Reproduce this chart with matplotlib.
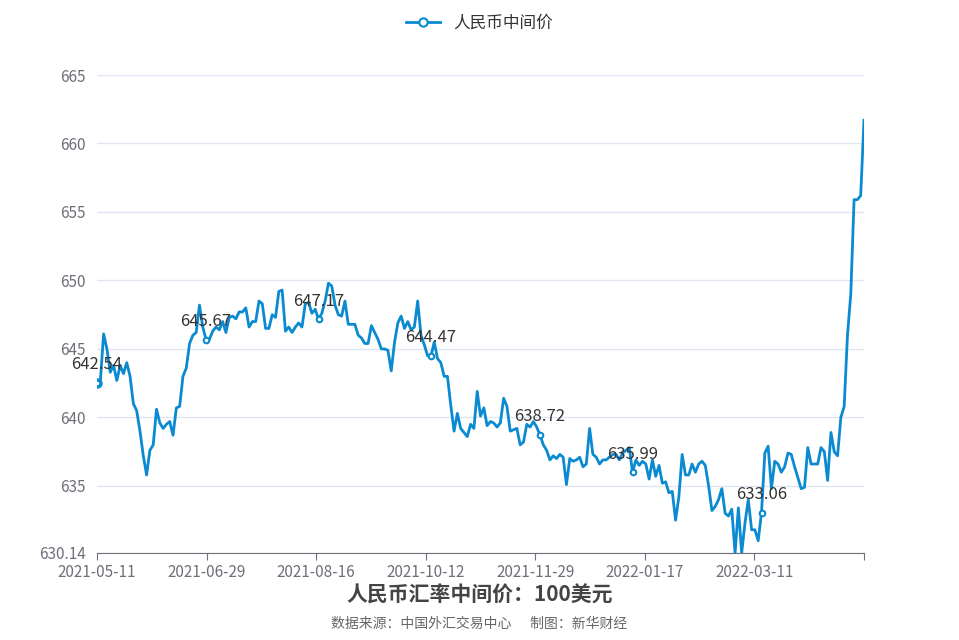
import numpy as np
import matplotlib
matplotlib.use("Agg")
import matplotlib.pyplot as plt

plt.rcParams["font.family"] = ["Noto Sans CJK SC", "DejaVu Sans"]

# daily CNY central parity (per 100 USD)
values = [
    642.54, 642.6, 646.1, 645.0, 643.3, 643.8, 642.7, 643.8, 643.2, 644.0, 643.0, 641.0,
    640.5, 639.0, 637.2, 635.8, 637.6, 638.0, 640.6, 639.6, 639.2, 639.5, 639.7, 638.7,
    640.7, 640.8, 643.0, 643.6, 645.4, 646.0, 646.2, 648.2, 646.6, 645.67,
    645.7, 646.3, 646.6, 646.4, 647.0, 646.2, 647.3, 647.4, 647.2, 647.7, 647.7, 648.0,
    646.6, 647.0, 647.0, 648.5, 648.3, 646.5, 646.5, 647.5, 647.3, 649.2, 649.3, 646.3,
    646.6, 646.2, 646.6, 646.9, 646.6, 648.3, 648.4, 647.6, 647.9, 647.17, 647.6,
    648.5, 649.8, 649.6, 648.2, 647.5, 647.4, 648.5, 646.8, 646.8, 646.8, 646.0, 645.8,
    645.4, 645.4, 646.7, 646.2, 645.7, 645.0, 645.0, 644.9, 643.4, 645.5, 646.9, 647.4,
    646.5, 647.0, 646.4, 646.6, 648.5, 646.0, 645.3, 644.5, 644.47, 645.5, 644.3,
    644.0, 643.0, 643.0, 640.9, 639.0, 640.3, 639.2, 638.9, 638.6, 639.5, 639.2, 641.9,
    640.1, 640.7, 639.4, 639.7, 639.6, 639.3, 639.6, 641.4, 640.8, 639.0, 639.1, 639.2,
    638.0, 638.2, 639.5, 639.3, 639.7, 639.3, 638.72, 638.0,
    637.6, 636.9, 637.2, 637.0, 637.3, 637.1, 635.1, 637.0, 636.8, 636.9, 637.1, 636.4,
    636.6, 639.2, 637.3, 637.1, 636.6, 636.9, 636.9, 637.1, 637.3, 637.3, 636.9, 637.4,
    637.6, 637.8, 635.99, 636.9, 636.5, 636.8, 636.6, 635.5, 636.9, 635.7,
    636.5, 635.2, 635.3, 634.5, 634.6, 632.5, 634.2, 637.3, 635.8, 635.8, 636.6, 636.0,
    636.6, 636.8, 636.5, 635.0, 633.2, 633.5, 634.0, 634.8, 633.0, 632.8, 633.3,
    630.1, 633.4, 630.1, 632.3, 634.0, 631.8, 631.8, 631.0, 633.06, 637.4,
    637.9, 634.8, 636.8, 636.6, 636.0, 636.4, 637.4, 637.3, 636.4, 635.6, 634.8, 634.9,
    637.8, 636.6, 636.6, 636.6, 637.8, 637.5, 635.4, 638.9, 637.5, 637.2, 640.0, 640.8,
    646.0, 649.0, 655.9, 655.9, 656.2, 661.7,
]
tick_labels = ["2021-05-11", "2021-06-29", "2021-08-16", "2021-10-12",
               "2021-11-29", "2022-01-17", "2022-03-11"]
marked = [642.54, 645.67, 647.17, 644.47, 638.72, 635.99, 633.06]

BLUE = "#0a8ad1"
n = len(values)
x = np.arange(n)

fig = plt.figure(figsize=(9.59, 6.4), dpi=100)
ax = fig.add_axes([97 / 959, (640 - 552.5) / 640, 767 / 959, (552.5 - 75) / 640])

ax.plot(x, values, color=BLUE, lw=2, label="人民币中间价", zorder=3,
        marker="o", markevery=[0], mfc="white", mec=BLUE, ms=6, mew=1.5)
for v in marked:
    i = values.index(v)
    ax.plot(i, v, "o", ms=4, mfc="white", mec=BLUE, mew=1.5, zorder=4)
    ax.annotate(f"{v:.2f}", (i, v), xytext=(0, 7), textcoords="offset points",
                ha="center", va="bottom", fontsize=12, color="#333333", zorder=5)

ax.set_xlim(0, n - 1)
ax.set_ylim(630.14, 665)
ax.set_yticks([630.14, 635, 640, 645, 650, 655, 660, 665])
ax.set_yticklabels(["630.14", "635", "640", "645", "650", "655", "660", "665"])
ax.grid(axis="y", color="#e0e6f1", lw=1)
ax.set_axisbelow(True)
ticks = np.linspace(0, n - 1, 8)
ax.set_xticks(ticks)
ax.set_xticklabels(tick_labels + [""])
for s in ["top", "right", "left"]:
    ax.spines[s].set_visible(False)
ax.spines["bottom"].set_color("#6e7079")
ax.tick_params(axis="y", length=0, labelcolor="#6e7079", labelsize=11, pad=8)
ax.tick_params(axis="x", length=5, color="#6e7079", labelcolor="#6e7079", labelsize=11)

fig.legend(loc="upper center", bbox_to_anchor=(0.5, 1.0), frameon=False, fontsize=12,
           handlelength=2, labelcolor="#333333")
fig.text(0.5, 0.07, "人民币汇率中间价：100美元", ha="center", va="center",
         fontsize=15, fontweight="bold", color="#444444")
fig.text(0.5, 0.025, "数据来源：中国外汇交易中心      制图：新华财经", ha="center",
         va="center", fontsize=10, color="#666666")

fig.savefig("out.png", dpi=100)
